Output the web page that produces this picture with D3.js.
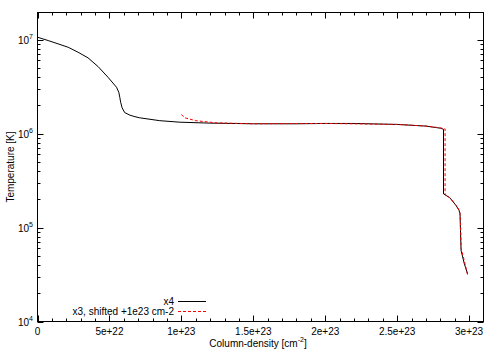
<!DOCTYPE html>
<html>
<head>
<meta charset="utf-8">
<script src="https://cdn.jsdelivr.net/npm/d3@7"></script>
<style>
  body { margin: 0; background: #fff; }
  text { font-family: "Liberation Sans", Arial, sans-serif; font-size: 10px; }
</style>
</head>
<body>
<script>
// x4 run
var x4Col = [0, 7.4e21, 1.43e22, 2.13e22, 2.82e22, 3.51e22, 4.21e22, 4.9e22, 5.49e22, 5.65e22,
  5.72e22, 5.78e22, 5.88e22, 6.06e22, 6.42e22, 6.71e22, 7.1e22, 8.5e22, 9.9e22, 1.2e23,
  1.5e23, 1.8e23, 2.0e23, 2.2e23, 2.5e23, 2.7e23, 2.8e23, 2.822e23, 2.822e23, 2.865e23,
  2.91e23, 2.93e23, 2.937e23, 2.94e23, 2.944e23, 2.967e23, 2.99e23];
var x4Temp = [1.058e7, 9.76e6, 9.0e6, 8.28e6, 7.33e6, 6.39e6, 5.16e6, 3.97e6, 3.11e6, 2.75e6,
  2.43e6, 2.15e6, 1.88e6, 1.67e6, 1.57e6, 1.52e6, 1.47e6, 1.37e6, 1.32e6, 1.29e6,
  1.27e6, 1.27e6, 1.28e6, 1.28e6, 1.25e6, 1.2e6, 1.14e6, 1.11e6, 2.28e5, 2.08e5,
  1.71e5, 1.52e5, 1.4e5, 9.3e4, 5.7e4, 4.1e4, 3.2e4];

// x3 run, shifted by +1e23 cm-2
var x3Col = [1.0e23, 1.024e23, 1.1e23, 1.24e23, 1.5e23, 2.0e23, 2.5e23, 2.7e23, 2.8e23, 2.833e23,
  2.833e23, 2.87e23, 2.91e23, 2.935e23, 2.94e23, 2.945e23, 2.97e23, 2.99e23];
var x3Temp = [1.59e6, 1.47e6, 1.37e6, 1.3e6, 1.27e6, 1.28e6, 1.25e6, 1.2e6, 1.15e6, 1.12e6,
  2.25e5, 2.05e5, 1.72e5, 1.5e5, 1.1e5, 6e4, 4.2e4, 3.1e4];

var xTicks = [0, 5e22, 1e23, 1.5e23, 2e23, 2.5e23, 3e23];
var xTickLabels = ["0", "5e+22", "1e+23", "1.5e+23", "2e+23", "2.5e+23", "3e+23"];
var yTicks = [1e4, 1e5, 1e6, 1e7];
var yTickExps = ["4", "5", "6", "7"];

var W = 500, H = 350;
var L = 37.5, R = 483.5, T = 12.5, B = 321.5;

var x = d3.scaleLinear().domain([0, 3.1e23]).range([L, R]);
var y = d3.scaleLog().domain([1e4, 1.94e7]).range([B, T]);

var svg = d3.select("body").append("svg")
  .attr("width", W)
  .attr("height", H);

// minor ticks
var xMinor = d3.range(0, 3.1e23 + 1, 1e22);
var yMinor = [];
[1e4, 1e5, 1e6, 1e7].forEach(function (d) {
  for (var k = 2; k <= 9; k++) if (d * k < 1.94e7) yMinor.push(d * k);
});

var ticks = svg.append("g").attr("stroke", "#000").attr("stroke-width", 1);
function vtick(v, len) {
  var px = Math.round(x(v)) + 0.5;
  ticks.append("line").attr("x1", px).attr("x2", px).attr("y1", B).attr("y2", B - len);
  ticks.append("line").attr("x1", px).attr("x2", px).attr("y1", T).attr("y2", T + len);
}
function htick(v, len) {
  var py = Math.round(y(v)) + 0.5;
  ticks.append("line").attr("x1", L).attr("x2", L + len).attr("y1", py).attr("y2", py);
  ticks.append("line").attr("x1", R).attr("x2", R - len).attr("y1", py).attr("y2", py);
}
xMinor.forEach(function (v) { vtick(v, 3); });
xTicks.forEach(function (v) { vtick(v, 6); });
yMinor.forEach(function (v) { htick(v, 3); });
yTicks.forEach(function (v) { htick(v, 6); });

// frame
svg.append("rect")
  .attr("x", L).attr("y", T)
  .attr("width", R - L).attr("height", B - T)
  .attr("fill", "none").attr("stroke", "#000").attr("stroke-width", 1);

// tick labels
svg.append("g").selectAll("text")
  .data(xTicks)
  .enter().append("text")
  .attr("x", function (d) { return x(d); })
  .attr("y", 335)
  .attr("text-anchor", "middle")
  .text(function (d, i) { return xTickLabels[i]; });

var yl = svg.append("g").selectAll("text")
  .data(yTicks)
  .enter().append("text")
  .attr("x", 33)
  .attr("y", function (d) { return y(d) + 4; })
  .attr("text-anchor", "end");
yl.append("tspan").text("10");
yl.append("tspan").attr("dy", -5).style("font-size", "7px")
  .text(function (d, i) { return yTickExps[i]; });

// axis titles
svg.append("text")
  .attr("transform", "translate(14,167) rotate(-90)")
  .attr("text-anchor", "middle")
  .text("Temperature [K]");

var xt = svg.append("text")
  .attr("x", 258).attr("y", 347)
  .attr("text-anchor", "middle");
xt.append("tspan").text("Column-density [cm");
xt.append("tspan").attr("dy", -5).style("font-size", "7px").text("-2");
xt.append("tspan").attr("dy", 5).text("]");

// curves
var line = d3.line()
  .x(function (d) { return x(d[0]); })
  .y(function (d) { return y(d[1]); });

var x4Data = d3.zip(x4Col, x4Temp);
var x3Data = d3.zip(x3Col, x3Temp);

svg.append("path")
  .datum(x4Data)
  .attr("d", line)
  .attr("fill", "none")
  .attr("stroke", "#000")
  .attr("stroke-width", 1);

svg.append("path")
  .datum(x3Data)
  .attr("d", line)
  .attr("fill", "none")
  .attr("stroke", "#f00")
  .attr("stroke-width", 1)
  .attr("stroke-dasharray", "3,2");

// legend
var legend = [
  { name: "x4", color: "#000", dash: null },
  { name: "x3, shifted +1e23 cm-2", color: "#f00", dash: "3,2" }
];
var lg = svg.append("g").selectAll("g")
  .data(legend)
  .enter().append("g")
  .attr("transform", function (d, i) { return "translate(0," + (301.5 + i * 10) + ")"; });
lg.append("text")
  .attr("x", 174).attr("y", 3.5)
  .attr("text-anchor", "end")
  .text(function (d) { return d.name; });
lg.append("line")
  .attr("x1", 178).attr("x2", 206)
  .attr("stroke", function (d) { return d.color; })
  .attr("stroke-dasharray", function (d) { return d.dash; });
</script>
</body>
</html>
